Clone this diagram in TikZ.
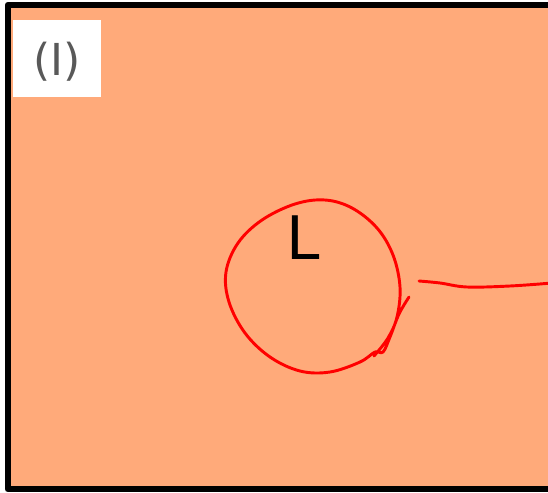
\documentclass[tikz,border=0pt]{standalone}
\usepackage{fontspec}
\setmainfont{DejaVu Sans}
\definecolor{salmon}{RGB}{255,170,122}
\begin{document}
\begin{tikzpicture}[x=0.75pt, y=-0.75pt, line join=round, line cap=round]
    \useasboundingbox (0,0) rectangle (548,492);
    \clip (0,0) rectangle (548,492);
    % Hintergrund und Rahmen
    \fill[salmon] (7.7,5) rectangle (560,489.3);
    \draw[line width=4.5pt] (7.7,5) rectangle (560,489.3);
    % Beschriftung oben links
    \node[fill=white, minimum width=66pt, minimum height=57.75pt, inner sep=0pt] (box) at (57.2,58.3) {};
    \node[font=\fontsize{33}{33}\selectfont, text=black!65] (tag) at (57,62) {(I)};
    % Schleife
    \draw[red, line width=2.2pt] plot[smooth, tension=0.6] coordinates {
        (409,297) (399,314) (390,337) (383,352) (375,352) (360,362)
        (330,372) (300,371) (270,357) (245,333) (229,302) (226,272)
        (238,243) (262,220) (295,204) (325,200) (352,208) (377,228)
        (393,255) (400,287) (397,317) (388,338) (374,356)};
    \node[font=\fontsize{45}{45}\selectfont] (lab) at (303,238) {L};
    % Faden nach rechts
    \draw[red, line width=2.2pt] plot[smooth, tension=0.6] coordinates {
        (419,281) (440,283) (467,287) (510,286) (552,283)};
\end{tikzpicture}
\end{document}
